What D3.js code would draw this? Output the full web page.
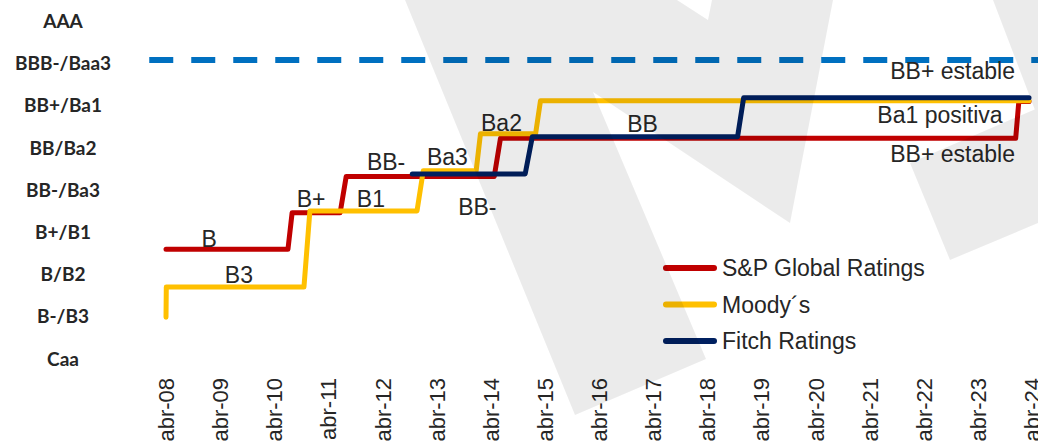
<!DOCTYPE html>
<html>
<head>
<meta charset="utf-8">
<script src="https://cdn.jsdelivr.net/npm/d3@7"></script>
<style>
  html, body { margin: 0; padding: 0; background: #fff; }
  svg { display: block; }
</style>
</head>
<body>
<svg id="chart"></svg>
<script>
const width = 1038;
const height = 445;

// rating labels on the left, top to bottom
const ratingLabels = ['AAA', 'BBB-/Baa3', 'BB+/Ba1', 'BB/Ba2', 'BB-/Ba3', 'B+/B1', 'B/B2', 'B-/B3', 'Caa'];

// one tick every april
const tickYears = d3.range(2008, 2025);

// rating level: 1 = B-/B3, 2 = B/B2, 3 = B+/B1, 4 = BB-/Ba3, 5 = BB/Ba2, 6 = BB+/Ba1, 7 = BBB-/Baa3
const gradeLevel = 7;
const gradeDates = ['2007-12-10', '2024-06-01'];

const spDates = ['2008-04-01', '2010-07-03', '2010-07-31', '2011-06-20', '2011-07-31', '2014-04-25',
  '2014-06-06', '2023-12-13', '2024-01-03', '2024-03-12'];
const spLevels = [2.0, 2.0, 2.96, 2.96, 3.92, 3.92, 4.93, 4.93, 5.9, 5.9];

const moodysDates = ['2008-04-01', '2008-04-03', '2010-10-19', '2010-11-28', '2012-11-20', '2013-01-01',
  '2013-12-24', '2014-01-22', '2015-01-29', '2015-03-03', '2024-03-12'];
const moodysLevels = [0.2, 1.0, 1.0, 3.01, 3.01, 4.07, 4.07, 5.05, 5.05, 5.92, 5.92];

const fitchDates = ['2012-10-19', '2014-11-20', '2015-01-07', '2018-10-23', '2018-12-03', '2024-03-12'];
const fitchLevels = [3.99, 3.99, 4.97, 4.97, 6.0, 6.0];

const seriesNames = ['S&P Global Ratings', 'Moody´s', 'Fitch Ratings'];
const seriesColors = ['#c00000', '#ffc000', '#002060'];

// notes written next to the steps
const noteTexts = ['B', 'B3', 'B+', 'B1', 'BB-', 'Ba3', 'BB-', 'Ba2', 'BB', 'BB+ estable', 'Ba1 positiva', 'BB+ estable'];
const noteDates = ['2009-01-17', '2009-08-06', '2010-12-06', '2012-01-14', '2012-04-25', '2013-06-13',
  '2014-01-01', '2014-06-13', '2017-01-20', '2023-12-08', '2023-09-16', '2023-12-08'];
const noteLevels = [2.06, 1.11, 3.12, 3.12, 4.09, 4.23, 2.9, 5.12, 5.1, 6.5, 5.34, 4.3];
const noteAnchors = ['middle', 'middle', 'middle', 'middle', 'middle', 'middle', 'middle', 'middle', 'middle', 'end', 'end', 'end'];

const parse = d3.timeParse('%Y-%m-%d');
const textColor = '#262626';
const font = '"Liberation Sans", Arial, sans-serif';

const svg = d3.select('#chart').attr('width', width).attr('height', height);

const x = d3.scaleTime()
  .domain([new Date(2008, 3, 1), new Date(2024, 3, 1)])
  .range([166, 1032]);

const y = d3.scaleLinear()
  .domain([1, 7])
  .range([287, 60]);

const yLabels = d3.scalePoint()
  .domain(ratingLabels)
  .range([20.5, 358]);

// rating names on the left
svg.append('g')
  .selectAll('text')
  .data(ratingLabels)
  .join('text')
  .attr('x', 63)
  .attr('y', d => yLabels(d))
  .attr('text-anchor', 'middle')
  .attr('dominant-baseline', 'central')
  .attr('font-family', 'Lato, "Open Sans", sans-serif')
  .attr('font-weight', 700)
  .attr('font-size', 19)
  .attr('fill', textColor)
  .text(d => d);

// x axis, labels only
const xAxis = svg.append('g')
  .attr('transform', 'translate(0,378)')
  .call(d3.axisBottom(x)
    .tickValues(tickYears.map(yr => new Date(yr, 3, 1)))
    .tickFormat(d => 'abr-' + d3.timeFormat('%y')(d))
    .tickSize(0));
xAxis.select('.domain').remove();
xAxis.selectAll('text')
  .attr('transform', 'rotate(-90)')
  .attr('x', 0)
  .attr('y', 0)
  .attr('dy', '0.35em')
  .attr('text-anchor', 'end')
  .attr('font-family', font)
  .attr('font-size', 22)
  .attr('fill', textColor);

// BBB- threshold
svg.append('line')
  .attr('x1', x(parse(gradeDates[0])))
  .attr('x2', x(parse(gradeDates[1])))
  .attr('y1', y(gradeLevel))
  .attr('y2', y(gradeLevel))
  .attr('stroke', '#0070c0')
  .attr('stroke-width', 6)
  .attr('stroke-dasharray', '24 18');

const series = [
  { dates: spDates, levels: spLevels },
  { dates: moodysDates, levels: moodysLevels },
  { dates: fitchDates, levels: fitchLevels }
];

const line = d3.line()
  .x(d => x(d[0]))
  .y(d => y(d[1]));

svg.append('g')
  .selectAll('path')
  .data(series)
  .join('path')
  .attr('d', s => line(s.dates.map((dt, i) => [parse(dt), s.levels[i]])))
  .attr('fill', 'none')
  .attr('stroke', (s, i) => seriesColors[i])
  .attr('stroke-width', 5)
  .attr('stroke-linecap', 'round')
  .attr('stroke-linejoin', 'round');

// step notes
svg.append('g')
  .selectAll('text')
  .data(noteTexts)
  .join('text')
  .attr('x', (d, i) => x(parse(noteDates[i])))
  .attr('y', (d, i) => y(noteLevels[i]))
  .attr('text-anchor', (d, i) => noteAnchors[i])
  .attr('font-family', font)
  .attr('font-size', 23)
  .attr('fill', textColor)
  .text(d => d);

// legend
const legend = svg.append('g').attr('transform', 'translate(663,268)');
const legendItem = legend.selectAll('g')
  .data(seriesNames)
  .join('g')
  .attr('transform', (d, i) => `translate(0,${i * 36.5})`);
legendItem.append('line')
  .attr('x1', 3)
  .attr('x2', 51)
  .attr('stroke', (d, i) => seriesColors[i])
  .attr('stroke-width', 6)
  .attr('stroke-linecap', 'round');
legendItem.append('text')
  .attr('x', 59)
  .attr('dominant-baseline', 'central')
  .attr('font-family', font)
  .attr('font-size', 23)
  .attr('fill', textColor)
  .text(d => d);

// faint logo watermark laid over the chart
const watermark = [
  [[405, 0], [677, 0], [708, 20], [712, 0], [833, 0], [790, 223], [593, 92], [706, 359], [575, 415]],
  [[993, 0], [1038, 0], [1038, 118]],
  [[910, 163], [1038, 108], [1038, 223], [950, 260]]
];
svg.append('path')
  .attr('d', watermark.map(p => 'M' + p.join('L') + 'Z').join(''))
  .attr('fill', '#000')
  .attr('fill-opacity', 0.08)
  .attr('pointer-events', 'none');
</script>
</body>
</html>
